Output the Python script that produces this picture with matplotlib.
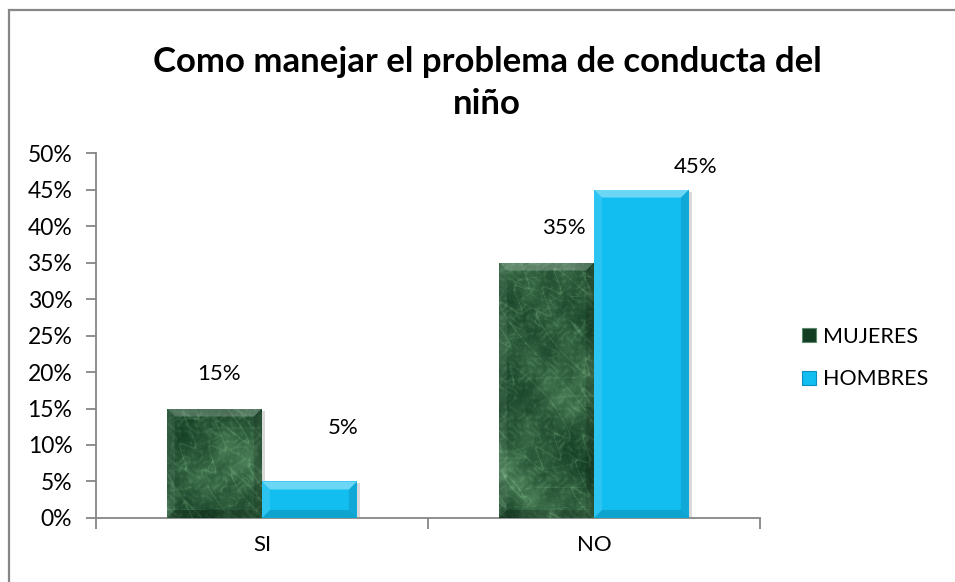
import numpy as np
import matplotlib
matplotlib.use("Agg")
from matplotlib import pyplot as plt
from matplotlib.patches import Rectangle, Polygon, Patch
from matplotlib.ticker import PercentFormatter, FixedLocator

plt.rcParams['font.family'] = ['Lato', 'DejaVu Sans']

TITLE = "Como manejar el problema de conducta del\nniño"
categories = ["SI", "NO"]
mujeres = [0.15, 0.35]
hombres = [0.05, 0.45]
series_names = ["MUJERES", "HOMBRES"]

# label nudges in pixels (dx, dy above the bar top)
muj_label_off = [(5, 35), (17, 35)]
hom_label_off = [(34, 53), (54, 23)]

GREEN_DARK = np.array([20, 62, 36]) / 255
GREEN_LIGHT = np.array([118, 178, 128]) / 255
BLUE = "#12BDF0"
AXIS_GRAY = "#868686"

W, H, DPI = 9.55, 5.82, 100
fig = plt.figure(figsize=(W, H), dpi=DPI)
ax_rect = [0.1005, 0.110, 0.6953, 0.627]
ax = fig.add_axes(ax_rect)

xlim = (-0.5, 1.5)
ylim = (0, 0.5)
ax.set_xlim(*xlim)
ax.set_ylim(*ylim)

# data units per pixel, for bevels
px_x = (xlim[1] - xlim[0]) / (ax_rect[2] * W * DPI)
px_y = (ylim[1] - ylim[0]) / (ax_rect[3] * H * DPI)


def marble(h, w):
    yy, xx = np.mgrid[0:h, 0:w].astype(float)
    # soft clouds
    c = (np.sin(xx * 0.045 + 1.7 * np.sin(yy * 0.031))
         + np.sin(yy * 0.052 + 1.4 * np.sin(xx * 0.027 + 0.8))
         + 0.6 * np.sin((xx + yy) * 0.09 + 2.0 * np.sin(xx * 0.013))
         + 0.5 * np.sin(xx * 0.21 - yy * 0.17 + 1.5 * np.sin(yy * 0.08)))
    cloud = (c - c.min()) / (c.max() - c.min())
    # thin bright veins
    t = (xx * 0.035 + yy * 0.02
         + 2.2 * np.sin(yy * 0.038 + 0.7)
         + 1.6 * np.sin(xx * 0.05 + yy * 0.015)
         + 0.8 * np.sin(xx * 0.23 + yy * 0.19))
    vein = (1 - np.abs(np.sin(t))) ** 12
    t2 = xx * 0.07 - yy * 0.045 + 2.4 * np.sin(xx * 0.03 + yy * 0.06) + 0.7 * np.sin(yy * 0.3)
    vein2 = (1 - np.abs(np.sin(t2))) ** 16
    # fine mottling
    g = 0.5 + 0.5 * np.sin(xx * 0.9 + 3 * np.sin(yy * 0.7)) * np.sin(yy * 1.1 + 2 * np.sin(xx * 0.5))
    g2 = 0.5 + 0.5 * np.sin(xx * 0.37 + 2.5 * np.sin(yy * 0.29)) * np.sin(yy * 0.41 + 1.8 * np.sin(xx * 0.33))
    v = np.clip(0.5 * cloud ** 1.6 + 0.32 * vein + 0.22 * vein2 + 0.1 * g + 0.18 * g2 ** 3, 0, 1)
    return GREEN_DARK + (GREEN_LIGHT - GREEN_DARK) * v[..., None]


def bevel(x0, w, h, light, dark):
    bx, by = 8 * px_x, 8 * px_y
    y0 = 0
    top = [(x0, y0 + h), (x0 + w, y0 + h), (x0 + w - bx, y0 + h - by), (x0 + bx, y0 + h - by)]
    left = [(x0, y0), (x0, y0 + h), (x0 + bx, y0 + h - by), (x0 + bx, y0 + by)]
    right = [(x0 + w, y0), (x0 + w, y0 + h), (x0 + w - bx, y0 + h - by), (x0 + w - bx, y0 + by)]
    bottom = [(x0, y0), (x0 + w, y0), (x0 + w - bx, y0 + by), (x0 + bx, y0 + by)]
    ax.add_patch(Polygon(top, closed=True, facecolor="white", alpha=light, lw=0, zorder=4))
    ax.add_patch(Polygon(left, closed=True, facecolor="white", alpha=light * 0.3, lw=0, zorder=4))
    ax.add_patch(Polygon(right, closed=True, facecolor="black", alpha=dark, lw=0, zorder=4))
    ax.add_patch(Polygon(bottom, closed=True, facecolor="black", alpha=dark * 1.3, lw=0, zorder=4))


x = np.arange(len(categories))
bw = 0.286

tex = marble(int(ax_rect[3] * H * DPI), int(ax_rect[2] * W * DPI))

muj_bars = ax.bar(x - bw / 2, mujeres, bw, color=GREEN_DARK, lw=0, zorder=3)
hom_bars = ax.bar(x + bw / 2, hombres, bw, color=BLUE, lw=0, zorder=3)

for b in list(muj_bars) + list(hom_bars):
    # soft shadow
    ax.add_patch(Rectangle((b.get_x() + 3 * px_x, 0), b.get_width(), b.get_height() - 2 * px_y,
                           facecolor="black", alpha=0.15, lw=0, zorder=2))

for b in muj_bars:
    im = ax.imshow(tex, extent=(*xlim, *ylim), aspect="auto", origin="lower",
                   interpolation="bilinear", zorder=3.5)
    im.set_clip_path(b)
    bevel(b.get_x(), b.get_width(), b.get_height(), 0.22, 0.15)

for b in hom_bars:
    bevel(b.get_x(), b.get_width(), b.get_height(), 0.38, 0.10)

for bars, vals, offs in ((muj_bars, mujeres, muj_label_off), (hom_bars, hombres, hom_label_off)):
    for b, v, (dx, dy) in zip(bars, vals, offs):
        ax.annotate(f"{v:.0%}", (b.get_x() + b.get_width() / 2, v),
                    xytext=(dx, dy), textcoords="offset pixels",
                    ha="center", va="center", fontsize=16, color="black")

# axes styling
for s in ("top", "right"):
    ax.spines[s].set_visible(False)
for s in ("left", "bottom"):
    ax.spines[s].set_color(AXIS_GRAY)
    ax.spines[s].set_linewidth(1.3)

ax.yaxis.set_major_locator(FixedLocator(np.arange(0, 0.501, 0.05)))
ax.yaxis.set_major_formatter(PercentFormatter(1.0, decimals=0))
ax.tick_params(axis="y", direction="out", length=7, width=1.3, color=AXIS_GRAY,
               labelsize=16.5, pad=10)

ax.set_xticks(x)
ax.set_xticklabels(categories)
ax.tick_params(axis="x", which="major", length=0, labelsize=16, pad=12)
ax.set_xticks([-0.5, 0.5, 1.5], minor=True)
ax.tick_params(axis="x", which="minor", direction="out", length=8, width=1.3, color=AXIS_GRAY)

# title centred on the whole chart frame, which runs past the right edge
fig.suptitle(TITLE, x=0.51, y=0.921, fontsize=25, fontweight="bold", linespacing=1.38, va="top")

handles = [Patch(facecolor=GREEN_DARK, edgecolor="#5c8a6a", lw=0.8),
           Patch(facecolor=BLUE, edgecolor="#0a8fc0", lw=0.8)]
fig.legend(handles, series_names, loc="center left", bbox_to_anchor=(0.82, 0.385),
           frameon=False, fontsize=15.5, handlelength=0.62, handleheight=0.62,
           handletextpad=0.35, labelspacing=1.05)

# chart frame
fig.add_artist(Rectangle((8.5 / (W * DPI), -0.2), 1.5, 1.2 - 9.5 / (H * DPI),
                         transform=fig.transFigure, fill=False, edgecolor="#878787", lw=1.6))

fig.savefig("out.png", dpi=DPI)
